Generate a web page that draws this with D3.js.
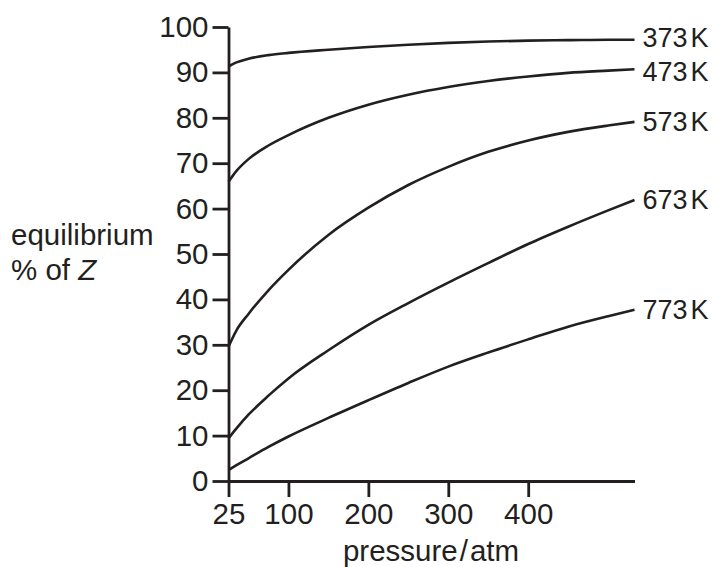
<!DOCTYPE html>
<html>
<head>
<meta charset="utf-8">
<script src="https://cdn.jsdelivr.net/npm/d3@7"></script>
<style>
  body { margin: 0; background: #fff; }
  text { font-family: "Liberation Sans", Arial, sans-serif; fill: #231f20; }
</style>
</head>
<body>
<div id="chart"></div>
<script>
// pressure (atm) at which each curve was read
var pressures = [25, 35, 50, 75, 100, 150, 200, 250, 300, 350, 400, 450, 500, 533];

// equilibrium % of Z for each temperature
var k373 = [91.3, 92.2, 93.0, 93.8, 94.3, 95.0, 95.6, 96.1, 96.5, 96.8, 97.0, 97.1, 97.2, 97.2];
var k473 = [65.9, 68.3, 70.9, 73.9, 76.2, 80.0, 82.9, 85.1, 86.8, 88.1, 89.1, 89.9, 90.4, 90.7];
var k573 = [29.6, 33.2, 36.8, 42.0, 46.5, 54.2, 60.2, 65.2, 69.2, 72.5, 75.0, 76.9, 78.3, 79.1];
var k673 = [9.4, 11.6, 14.6, 18.8, 22.6, 28.8, 34.4, 39.2, 43.7, 48.0, 52.2, 56.0, 59.6, 61.9];
var k773 = [2.4, 3.5, 5.0, 7.5, 9.8, 13.9, 17.8, 21.6, 25.2, 28.3, 31.2, 34.0, 36.3, 37.7];

var series_names = ['373', '473', '573', '673', '773'];
var series_values = [k373, k473, k573, k673, k773];

var x_ticks = [25, 100, 200, 300, 400];
var y_ticks = [0, 10, 20, 30, 40, 50, 60, 70, 80, 90, 100];

var chart_width = 718;
var chart_height = 567;
var ink = '#231f20';
var fs = 29.5;

var svg = d3.select('#chart')
    .append('svg')
    .attr('width', chart_width)
    .attr('height', chart_height)

var x_scale = d3.scaleLinear()
    .domain([25, 533])
    .range([228.5, 634.5])

var y_scale = d3.scaleLinear()
    .domain([0, 100])
    .range([481, 27])

// axes
var x_axis = d3.axisBottom(x_scale)
    .tickValues(x_ticks)
    .tickSize(16)
    .tickSizeOuter(0)
    .tickPadding(6)

var y_axis = d3.axisLeft(y_scale)
    .tickValues(y_ticks)
    .tickSize(16)
    .tickSizeOuter(0)
    .tickPadding(4)

svg.append('g')
    .attr('transform', 'translate(0,' + y_scale(0) + ')')
    .call(x_axis)

svg.append('g')
    .attr('transform', 'translate(' + x_scale(25) + ',0)')
    .call(y_axis)

svg.selectAll('.domain, .tick line')
    .attr('stroke', ink)
    .attr('stroke-width', 2.8)

svg.selectAll('.tick text')
    .attr('font-family', '"Liberation Sans", Arial, sans-serif')
    .attr('font-size', fs)
    .attr('fill', ink)

// curves
var line = d3.line()
    .x(function (d) { return x_scale(d[0]) })
    .y(function (d) { return y_scale(d[1]) })
    .curve(d3.curveMonotoneX)

// top two labels sit very close, nudge them apart a little
var label_nudge = [-2, 2, 0, 0, 0];

series_values.forEach(function (vals, i) {
    var pts = pressures.map(function (p, j) { return [p, vals[j]] });
    svg.append('path')
        .datum(pts)
        .attr('d', line)
        .attr('fill', 'none')
        .attr('stroke', ink)
        .attr('stroke-width', 2.6)

    var last = pts[pts.length - 1];
    var label = svg.append('text')
        .attr('x', x_scale(last[0]) + 8)
        .attr('y', y_scale(last[1]) + label_nudge[i])
        .attr('dy', '0.35em')
        .attr('font-size', 27)
    label.append('tspan').text(series_names[i])
    label.append('tspan').attr('dx', 3).text('K')
})

// axis titles
svg.append('text')
    .attr('x', 11)
    .attr('y', 245)
    .attr('font-size', fs)
    .text('equilibrium')

var ylab2 = svg.append('text')
    .attr('x', 11)
    .attr('y', 280)
    .attr('font-size', fs)
ylab2.append('tspan').text('% of ')
ylab2.append('tspan').attr('font-style', 'italic').text('Z')

var xlab = svg.append('text')
    .attr('x', 431)
    .attr('y', 561)
    .attr('text-anchor', 'middle')
    .attr('font-size', fs)
xlab.append('tspan').text('pressure')
xlab.append('tspan').attr('dx', 2).text('/')
xlab.append('tspan').attr('dx', 2).text('atm')
</script>
</body>
</html>
